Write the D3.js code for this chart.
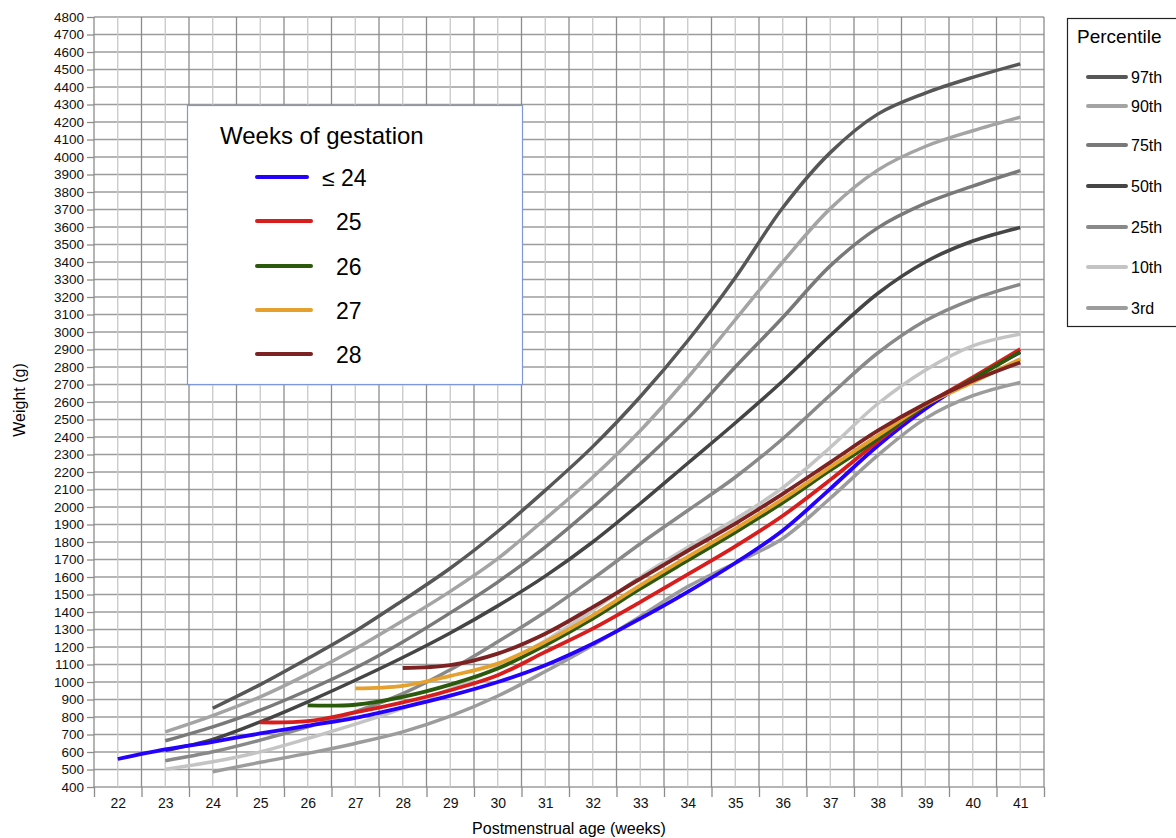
<!DOCTYPE html>
<html lang="en">
<head>
    <meta charset="UTF-8">
    <title>Weight by postmenstrual age</title>
    <style>
        body {
            margin: 0;
            background: #fff;
        }
        svg {
            display: block;
            font-family: "Liberation Sans", Arial, Helvetica, sans-serif;
        }
        .grid-h { stroke: #9c9c9c; stroke-width: 1.3; }
        .grid-half { stroke: #8c8c8c; stroke-width: 1.3; }
        .grid-week { stroke: #c8c8c8; stroke-width: 1.3; }
        .axis path { display: none; }
        .axis line { stroke: #8c8c8c; stroke-width: 1.3; }
        .axis text { fill: #111; }
    </style>
</head>
<body>
    <svg id="chart" width="1176" height="838"></svg>

    <script src="https://d3js.org/d3.v7.min.js"></script>
    <script>
        // weeks of postmenstrual age and weight values (g), null = not plotted
        const weeks = [22, 23, 24, 25, 26, 27, 28, 29, 30, 31, 32, 33, 34, 35, 36, 37, 38, 39, 40, 41];
        const weightTicks = [400, 500, 600, 700, 800, 900, 1000, 1100, 1200, 1300, 1400, 1500, 1600, 1700,
            1800, 1900, 2000, 2100, 2200, 2300, 2400, 2500, 2600, 2700, 2800, 2900, 3000, 3100, 3200,
            3300, 3400, 3500, 3600, 3700, 3800, 3900, 4000, 4100, 4200, 4300, 4400, 4500, 4600, 4700, 4800];

        const p97 = [null, null, 850, 985, 1134, 1290, 1466, 1650, 1860, 2095, 2345, 2630, 2950, 3310, 3710, 4025, 4245, 4365, 4455, 4532];
        const p90 = [null, 715, 808, 915, 1045, 1190, 1350, 1518, 1705, 1932, 2170, 2436, 2740, 3070, 3400, 3705, 3925, 4060, 4150, 4228];
        const p75 = [null, 664, 744, 839, 953, 1080, 1229, 1395, 1571, 1771, 1999, 2246, 2505, 2800, 3083, 3378, 3595, 3735, 3834, 3922];
        const p50 = [null, 608, 672, 772, 887, 1010, 1140, 1280, 1435, 1605, 1800, 2020, 2250, 2480, 2720, 2980, 3220, 3400, 3520, 3597];
        const p25 = [null, 550, 601, 668, 744, 830, 934, 1070, 1230, 1400, 1590, 1790, 1980, 2170, 2390, 2640, 2880, 3064, 3187, 3272];
        const p10 = [null, 501, 544, 601, 677, 759, 849, 959, 1085, 1235, 1410, 1600, 1770, 1930, 2110, 2340, 2590, 2782, 2921, 2988];
        const p3 = [null, null, 487, 541, 592, 649, 715, 805, 920, 1060, 1210, 1375, 1545, 1680, 1820, 2050, 2295, 2505, 2636, 2712];

        const ga24 = [560, 615, 658, 706, 750, 795, 855, 922, 1000, 1096, 1219, 1362, 1515, 1680, 1866, 2104, 2350, 2560, 2735, 2885];
        const ga25 = [null, null, null, 769, 776, 826, 883, 953, 1039, 1172, 1305, 1457, 1615, 1775, 1950, 2155, 2374, 2580, 2740, 2902];
        const ga26 = [null, null, null, null, 866, 870, 915, 985, 1077, 1210, 1362, 1533, 1695, 1855, 2025, 2210, 2389, 2580, 2731, 2887];
        const ga27 = [null, null, null, null, null, 963, 978, 1035, 1105, 1229, 1381, 1552, 1715, 1875, 2045, 2228, 2408, 2585, 2712, 2845];
        const ga28 = [null, null, null, null, null, null, 1080, 1096, 1162, 1276, 1428, 1590, 1750, 1905, 2075, 2255, 2436, 2590, 2721, 2826];

        const percentileNames = ["97th", "90th", "75th", "50th", "25th", "10th", "3rd"];
        const gestationNames = ["\u2264 24", "25", "26", "27", "28"];

        const percentiles = [
            { values: p97, color: "#575757" },
            { values: p90, color: "#a4a4a4" },
            { values: p75, color: "#797979" },
            { values: p50, color: "#454545" },
            { values: p25, color: "#898989" },
            { values: p10, color: "#c4c4c4" },
            { values: p3, color: "#9c9c9c" }
        ];
        const gestation = [
            { values: ga24, color: "#2400ff" },
            { values: ga25, color: "#d81d1d" },
            { values: ga26, color: "#2c5a0c" },
            { values: ga27, color: "#e6a02e" },
            { values: ga28, color: "#7c2222" }
        ];

        const svg = d3.select("#chart");
        const plotLeft = 94, plotRight = 1044, plotTop = 17, plotBottom = 787;

        const x = d3.scaleLinear().domain([21.5, 41.5]).range([plotLeft, plotRight]);
        const y = d3.scaleLinear().domain([400, 4800]).range([plotBottom, plotTop]);

        // grid
        const halfWeeks = d3.range(21.5, 41.6, 0.5);
        svg.append("g").selectAll("line")
            .data(weightTicks)
            .join("line")
            .attr("class", "grid-h")
            .attr("x1", plotLeft).attr("x2", plotRight)
            .attr("y1", d => y(d)).attr("y2", d => y(d));
        svg.append("g").selectAll("line")
            .data(halfWeeks)
            .join("line")
            .attr("class", d => Number.isInteger(d) ? "grid-week" : "grid-half")
            .attr("x1", d => x(d)).attr("x2", d => x(d))
            .attr("y1", plotTop).attr("y2", plotBottom);

        // axes
        svg.append("g")
            .attr("class", "axis")
            .attr("transform", `translate(0,${plotBottom})`)
            .call(d3.axisBottom(x).tickValues(halfWeeks.filter(d => !Number.isInteger(d))).tickSize(10).tickFormat(""));
        svg.append("g")
            .attr("class", "axis")
            .attr("transform", `translate(0,${plotBottom})`)
            .call(d3.axisBottom(x).tickValues(weeks).tickSize(0).tickPadding(11).tickFormat(d3.format("d")))
            .selectAll("text").attr("font-size", 14);
        svg.append("g")
            .attr("class", "axis")
            .attr("transform", `translate(${plotLeft},0)`)
            .call(d3.axisLeft(y).tickValues(weightTicks).tickSize(7).tickPadding(3).tickFormat(d3.format("d")))
            .selectAll("text").attr("font-size", 13.5);

        svg.append("text")
            .attr("x", (plotLeft + plotRight) / 2).attr("y", 834)
            .attr("text-anchor", "middle")
            .attr("font-size", 16)
            .text("Postmenstrual age (weeks)");
        svg.append("text")
            .attr("transform", "translate(25,400) rotate(-90)")
            .attr("text-anchor", "middle")
            .attr("font-size", 16)
            .text("Weight (g)");

        const line = d3.line()
            .defined(d => d[1] != null)
            .x(d => x(d[0]))
            .y(d => y(d[1]))
            .curve(d3.curveCatmullRom.alpha(0.5));

        percentiles.forEach(p => {
            svg.append("path")
                .datum(weeks.map((w, i) => [w, p.values[i]]))
                .attr("fill", "none")
                .attr("stroke", p.color)
                .attr("stroke-width", 3.5)
                .attr("d", line);
        });
        gestation.forEach(g => {
            svg.append("path")
                .datum(weeks.map((w, i) => [w, g.values[i]]))
                .attr("fill", "none")
                .attr("stroke", g.color)
                .attr("stroke-width", 3.8)
                .attr("d", line);
        });

        // gestation legend
        const gl = svg.append("g");
        gl.append("rect")
            .attr("x", 187.5).attr("y", 105.5)
            .attr("width", 335).attr("height", 279)
            .attr("fill", "#fff")
            .attr("stroke", "#7d97d8")
            .attr("stroke-width", 1.2);
        gl.append("text")
            .attr("x", 220).attr("y", 144)
            .attr("font-size", 24)
            .text("Weeks of gestation");
        const gRows = [177, 221, 266, 310, 354];
        gestation.forEach((g, i) => {
            gl.append("line")
                .attr("x1", 257).attr("x2", i === 0 ? 307 : 311)
                .attr("y1", gRows[i]).attr("y2", gRows[i])
                .attr("stroke", g.color)
                .attr("stroke-width", 4)
                .attr("stroke-linecap", "round");
            gl.append("text")
                .attr("x", i === 0 ? 322 : 336)
                .attr("y", gRows[i] + 9)
                .attr("font-size", 23)
                .text(gestationNames[i]);
        });

        // percentile legend
        const pl = svg.append("g");
        pl.append("rect")
            .attr("x", 1067.5).attr("y", 18.5)
            .attr("width", 130).attr("height", 308)
            .attr("fill", "#fff")
            .attr("stroke", "#222")
            .attr("stroke-width", 1.2);
        pl.append("text")
            .attr("x", 1077).attr("y", 43)
            .attr("font-size", 19)
            .text("Percentile");
        const pRows = [77, 106, 145, 186, 227, 267, 308];
        percentiles.forEach((p, i) => {
            pl.append("line")
                .attr("x1", 1088).attr("x2", 1126)
                .attr("y1", pRows[i]).attr("y2", pRows[i])
                .attr("stroke", p.color)
                .attr("stroke-width", 4)
                .attr("stroke-linecap", "round");
            pl.append("text")
                .attr("x", 1131)
                .attr("y", pRows[i] + 6)
                .attr("font-size", 16)
                .text(percentileNames[i]);
        });
    </script>
</body>
</html>
